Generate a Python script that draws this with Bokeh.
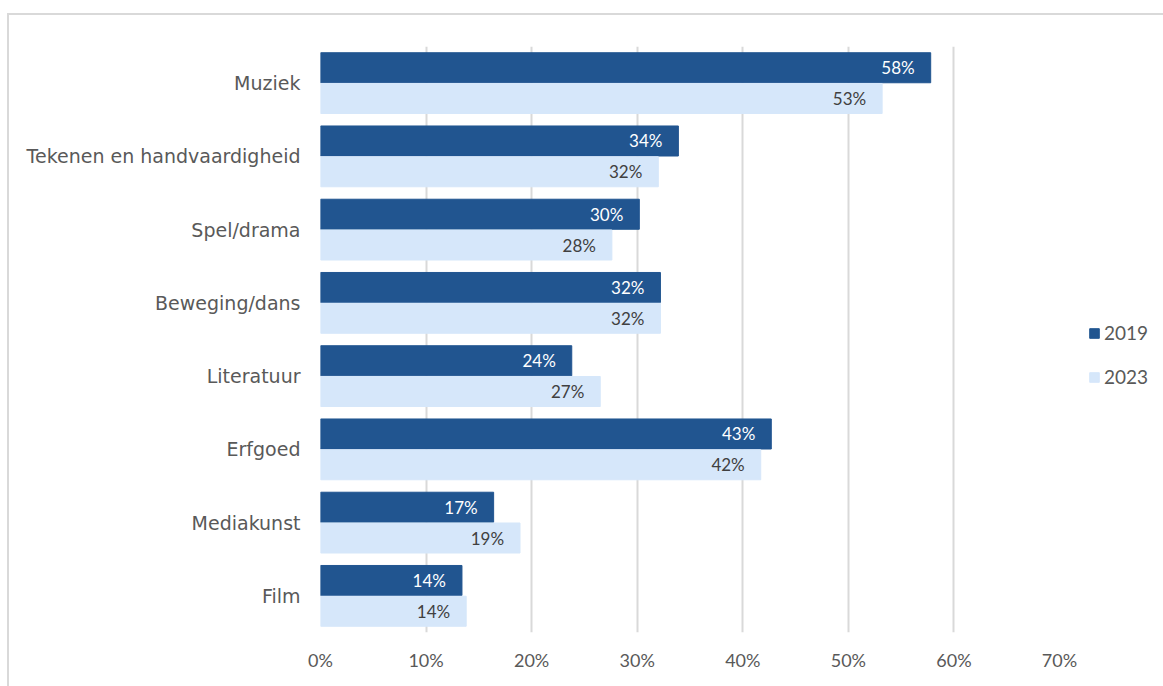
from bokeh.plotting import figure
from bokeh.layouts import column
from bokeh.models import ColumnDataSource, FactorRange, Legend, LegendItem, NumeralTickFormatter, FixedTicker
from bokeh.transform import dodge
from bokeh.core.properties import value
from bokeh.embed import file_html
from bokeh.resources import INLINE

categories = ["Muziek", "Tekenen en handvaardigheid", "Spel/drama", "Beweging/dans",
              "Literatuur", "Erfgoed", "Mediakunst", "Film"]
values_2019 = [0.578, 0.339, 0.302, 0.322, 0.238, 0.427, 0.164, 0.134]
values_2023 = [0.532, 0.320, 0.276, 0.322, 0.265, 0.417, 0.189, 0.138]
labels_2019 = ["58%", "34%", "30%", "32%", "24%", "43%", "17%", "14%"]
labels_2023 = ["53%", "32%", "28%", "32%", "27%", "42%", "19%", "14%"]
x_ticks = [0, 0.1, 0.2, 0.3, 0.4, 0.5, 0.6, 0.7]

C2019 = "#215590"
C2023 = "#D6E7FA"
FONT = "Lato"
CAT_FONT = "DejaVu Sans"

src = ColumnDataSource(dict(cat=categories, v19=values_2019, v23=values_2023,
                            l19=labels_2019, l23=labels_2023))

p = figure(frame_width=737, frame_height=584, output_backend="svg", toolbar_location=None,
           y_range=FactorRange(factors=list(reversed(categories)), range_padding=0),
           x_range=(0, 0.7), min_border_left=311, min_border_right=106,
           min_border_top=31, min_border_bottom=56)
p.styles = {"border-left": "2px solid #d9d9d9", "border-top": "2px solid #d9d9d9"}
p.outline_line_color = None

r19 = p.hbar(y=dodge("cat", 0.21, range=p.y_range), right="v19", left=0, height=0.41,
             source=src, color=C2019)
r23 = p.hbar(y=dodge("cat", -0.21, range=p.y_range), right="v23", left=0, height=0.41,
             source=src, color=C2023)

p.text(x="v19", y=dodge("cat", 0.21, range=p.y_range), text="l19", source=src,
       text_align="right", text_baseline="middle", x_offset=-16,
       text_color="white", text_font=value(FONT), text_font_size="17px")
p.text(x="v23", y=dodge("cat", -0.21, range=p.y_range), text="l23", source=src,
       text_align="right", text_baseline="middle", x_offset=-16,
       text_color="#404040", text_font=value(FONT), text_font_size="17px")

p.xaxis.ticker = FixedTicker(ticks=x_ticks)
p.xaxis.formatter = NumeralTickFormatter(format="0%")
p.xgrid.ticker = FixedTicker(ticks=x_ticks)
p.xgrid.grid_line_color = "#d9d9d9"
p.xgrid.grid_line_width = 2
p.ygrid.grid_line_color = None

for ax in (p.xaxis, p.yaxis):
    ax.axis_line_color = None
    ax.major_tick_line_color = None
    ax.minor_tick_line_color = None
    ax.major_label_text_color = "#595959"
p.xaxis.major_label_text_font = FONT
p.xaxis.major_label_text_font_size = "18px"
p.yaxis.major_label_text_font = CAT_FONT
p.yaxis.major_label_text_font_size = "19px"
p.xaxis.major_label_standoff = 10
p.yaxis.major_label_standoff = 14

legend = Legend(items=[LegendItem(label="2019", renderers=[r19]),
                       LegendItem(label="2023", renderers=[r23])],
                location=(29, 244), padding=0, margin=0, border_line_color=None,
                background_fill_alpha=0, glyph_width=12, glyph_height=12,
                label_height=20, spacing=21, label_standoff=4,
                label_text_font=FONT, label_text_font_size="19px",
                label_text_color="#595959")
p.add_layout(legend, "right")

root = column(p, styles={"padding-left": "7px", "padding-top": "13px"})

open("out.html", "w").write(file_html(root, INLINE))
